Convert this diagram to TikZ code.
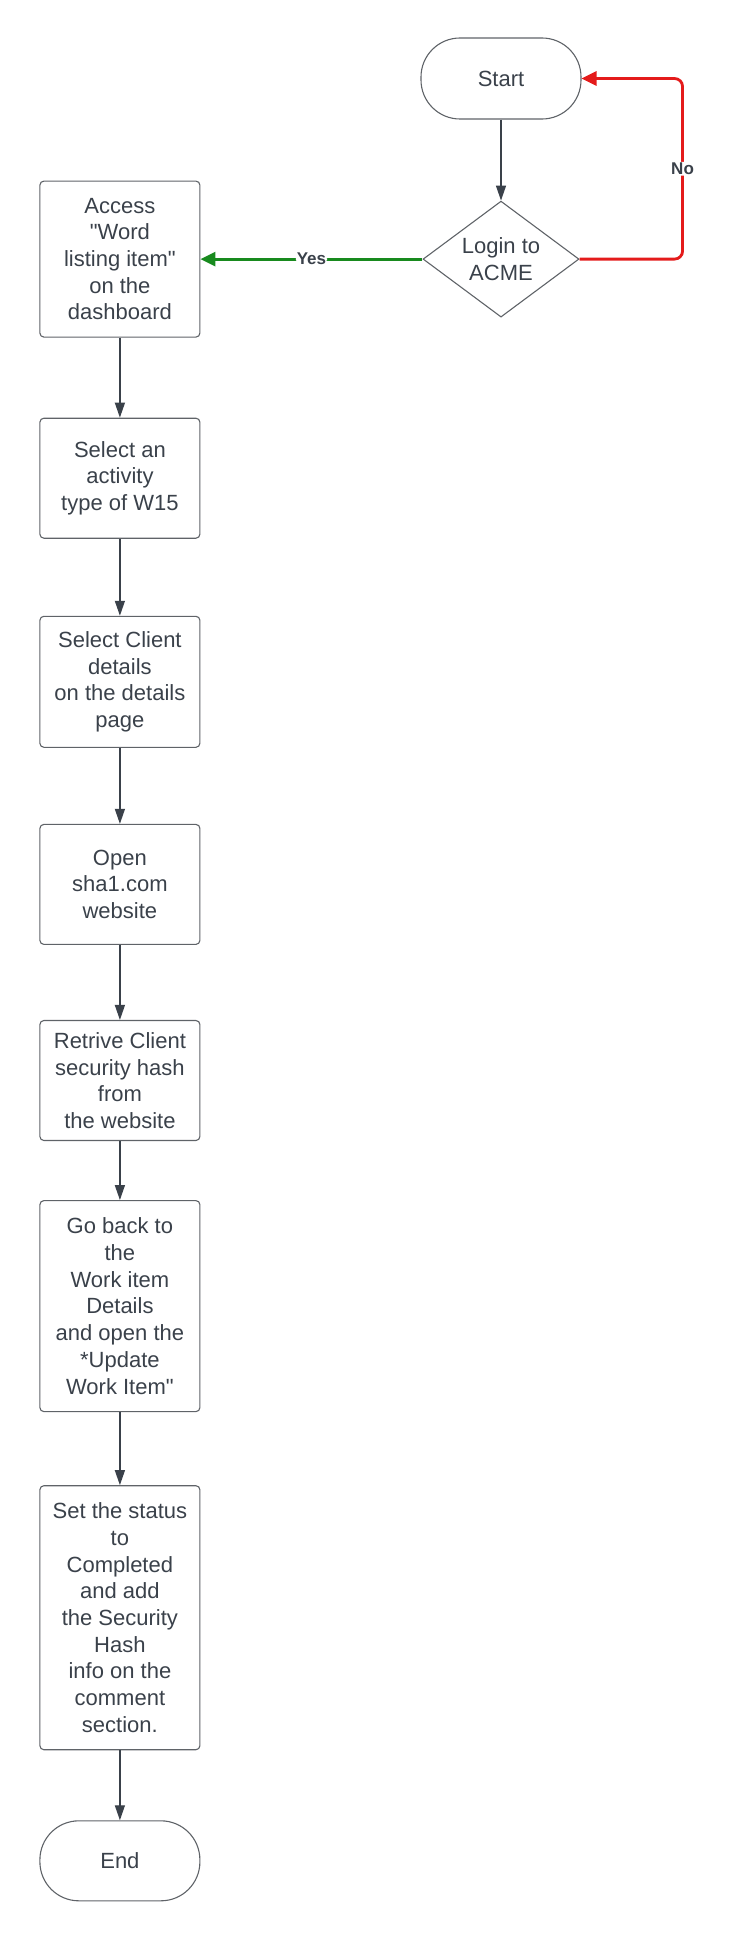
\documentclass[tikz,border=0pt]{standalone}
\usepackage{fontspec}
\setmainfont{Liberation Sans}
\usetikzlibrary{arrows.meta,positioning,shapes.geometric}
\definecolor{inkgray}{HTML}{3A414A}
\definecolor{edgegray}{HTML}{5F6368}
\definecolor{yesgreen}{HTML}{188A1E}
\definecolor{nored}{HTML}{E41B1B}

\begin{document}
\begin{tikzpicture}[x=1pt,y=1pt,node distance=77pt,>=Latex]
  \tikzstyle{stepbox}=[draw=edgegray,line width=1.1pt,rounded corners=4pt,align=center,minimum width=160pt,inner sep=2pt,text=inkgray,font=\fontsize{22}{26.7}\selectfont]
  \tikzstyle{terminal}=[stepbox,rounded corners=39pt,minimum height=81pt]
  \tikzstyle{decision}=[diamond,draw=edgegray,line width=1.1pt,minimum width=156pt,minimum height=116pt,inner sep=0pt]
  \tikzstyle{flow}=[draw=inkgray,line width=1.4pt,-{Triangle[length=15pt,width=10pt]}]
  \tikzstyle{branch}=[line width=2.8pt,rounded corners=8pt,-{Triangle[length=15pt,width=14pt]}]
  \tikzstyle{cond}=[fill=white,inner sep=1pt,text=inkgray,font=\fontsize{17}{20}\selectfont\bfseries]
  \useasboundingbox (0,0) rectangle (732,-1940);
  \node[terminal] (start) at (501,-78.5) {Start};
  \node[decision,below=81pt of start,label={[text=inkgray,align=center,font=\fontsize{22}{26.7}\selectfont]center:{Login to\\ACME}}] (login) {};
  \node[stepbox,left=222pt of login,minimum height=156pt] (access) {Access\\\textquotedbl Word\\listing item\textquotedbl\\on the\\dashboard};
  \node[stepbox,below=80pt of access,minimum height=120pt] (activity) {Select an\\activity\\type of W15};
  \node[stepbox,below=77pt of activity,minimum height=131pt] (client) {Select Client\\details\\on the details\\page};
  \node[stepbox,below=76pt of client,minimum height=120pt] (opensite) {Open\\sha1.com\\website};
  \node[stepbox,below=75pt of opensite,minimum height=120pt] (hash) {Retrive Client\\security hash\\from\\the website};
  \node[stepbox,below=59pt of hash,minimum height=211pt] (goback) {Go back to\\the\\Work item\\Details\\and open the\\*Update\\Work Item\textquotedbl};
  \node[stepbox,below=73pt of goback,minimum height=264pt] (setstatus) {Set the status\\to\\Completed\\and add\\the Security\\Hash\\info on the\\comment\\section.};
  \node[terminal,below=70pt of setstatus,minimum height=80pt] (finish) {End};
  % main chain
  \foreach \a/\b in {start/login,access/activity,activity/client,client/opensite,opensite/hash,hash/goback,goback/setstatus,setstatus/finish}
    \draw[flow] (\a) -- (\b);
  % decision branches
  \draw[branch,yesgreen] (login.west) -- node[cond] {Yes} (access.east);
  \draw[branch,nored] (login.east) -- ++(103,0) |- node[cond,pos=0.25] {No} (start.east);
\end{tikzpicture}
\end{document}
